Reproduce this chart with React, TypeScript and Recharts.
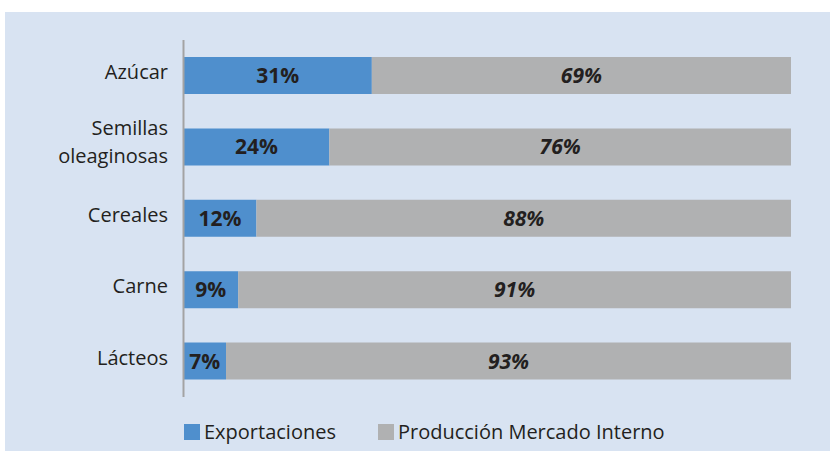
import React from 'react';
import { BarChart, Bar, XAxis, YAxis, LabelList, Legend } from 'recharts';

const categories = ['Azúcar', 'Semillas\noleaginosas', 'Cereales', 'Carne', 'Lácteos'];
const exportaciones = [31, 24, 12, 9, 7];
const mercadoInterno = [69, 76, 88, 91, 93];

const data = categories.map((c, i) => ({
  name: c,
  exp: exportaciones[i],
  int: mercadoInterno[i],
}));

const FONT = '"Open Sans", sans-serif';
const TEXT = '#231f20';
const BLUE = '#4f8fcd';
const GRAY = '#b0b1b2';

const CategoryTick = (props: any) => {
  const { x, y, payload } = props;
  const lines = String(payload.value).split('\n');
  const lh = 28;
  const first = lines.length === 1 ? 3.5 : -12;
  return (
    <text x={x} y={y} textAnchor="end" fontFamily={FONT} fontSize={20} fill={TEXT}>
      {lines.map((l, i) => (
        <tspan key={i} x={x} dy={i === 0 ? first : lh}>
          {l}
        </tspan>
      ))}
    </text>
  );
};

const LegendContent = (props: any) => {
  const { payload } = props;
  return (
    <div style={{ display: 'flex', alignItems: 'center', fontFamily: FONT, fontSize: 20, color: TEXT, lineHeight: '16px' }}>
      {(payload || []).map((p: any, i: number) => (
        <div key={i} style={{ display: 'flex', alignItems: 'center', marginRight: i === 0 ? 42 : 0 }}>
          <span style={{ display: 'inline-block', width: 16, height: 16, background: p.color, marginRight: 4 }} />
          <span>{p.value}</span>
        </div>
      ))}
    </div>
  );
};

export default function App() {
  return (
    <div style={{ position: 'absolute', left: 5, top: 12, width: 825, height: 439, background: '#d8e3f2' }}>
      <BarChart
        width={825}
        height={439}
        data={data}
        layout="vertical"
        margin={{ top: 28, right: 39, bottom: 54, left: 0 }}
        barSize={37}
      >
        <XAxis type="number" domain={[0, 100]} hide />
        <YAxis
          type="category"
          dataKey="name"
          width={178.5}
          axisLine={{ stroke: '#a3a3a3', strokeWidth: 2 }}
          tickLine={false}
          tickSize={0}
          tickMargin={15.5}
          tick={<CategoryTick />}
        />
        <Legend
          layout="horizontal"
          verticalAlign="middle"
          align="center"
          content={<LegendContent />}
          wrapperStyle={{ top: 412, left: 179, width: 'auto', height: 16 }}
        />
        <Bar dataKey="exp" name="Exportaciones" stackId="a" fill={BLUE} isAnimationActive={false}>
          <LabelList
            dataKey="exp"
            position="center"
            formatter={(v: any) => `${v}%`}
            style={{ fontFamily: FONT, fontSize: 21, fontWeight: 700, fill: TEXT }}
          />
        </Bar>
        <Bar dataKey="int" name="Producción Mercado Interno" stackId="a" fill={GRAY} isAnimationActive={false}>
          <LabelList
            dataKey="int"
            position="center"
            formatter={(v: any) => `${v}%`}
            style={{ fontFamily: FONT, fontSize: 21, fontWeight: 700, fontStyle: 'italic', fill: TEXT }}
          />
        </Bar>
      </BarChart>
    </div>
  );
}
